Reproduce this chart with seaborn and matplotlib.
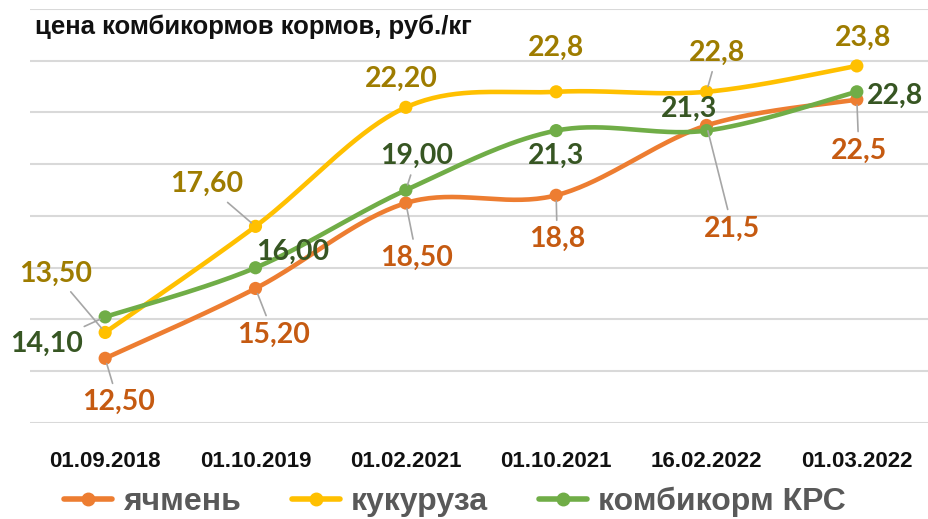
import numpy as np
import pandas as pd
import matplotlib
matplotlib.use('Agg')
import matplotlib.pyplot as plt
import seaborn as sns
from matplotlib.lines import Line2D

# data
dates = ['01.09.2018', '01.10.2019', '01.02.2021', '01.10.2021', '16.02.2022', '01.03.2022']
yachmen = [12.5, 15.2, 18.5, 18.8, 21.5, 22.5]
kukuruza = [13.5, 17.6, 22.2, 22.8, 22.8, 23.8]
kombikorm = [14.1, 16.0, 19.0, 21.3, 21.3, 22.8]

yachmen_lbl = ['12,50', '15,20', '18,50', '18,8', '21,5', '22,5']
kukuruza_lbl = ['13,50', '17,60', '22,20', '22,8', '22,8', '23,8']
kombikorm_lbl = ['14,10', '16,00', '19,00', '21,3', '21,3', '22,8']

names = ['ячмень', 'кукуруза', 'комбикорм КРС']
colors = ['#ED7D31', '#FFC000', '#70AD47']
lbl_colors = ['#C55A11', '#9E7C00', '#375623']

# label offsets in pixels (dx right, dy down) and whether a leader line is drawn
offsets = [
    [(13, 44, 1), (18, 46, 1), (11, 55, 1), (1, 44, 1), (26, 103, 1), (2, 51, 1)],
    [(-50, -59, 1), (-49, -42, 1), (-5, -28, 0), (0, -44, 0), (11, -39, 1), (6, -28, 0)],
    [(-59, 27, 1), (37, -16, 0), (11, -34, 1), (0, 25, 0), (-17, -22, 0), (38, 4, 0)],
]


def smooth(vals, n=40):
    # excel-like smoothed line (catmull-rom as bezier)
    x = np.arange(len(vals), dtype=float)
    y = np.asarray(vals, dtype=float)
    P = np.column_stack([x, y])
    P = np.vstack([P[0], P, P[-1]])
    pts = []
    t = np.linspace(0, 1, n)[:, None]
    for i in range(len(vals) - 1):
        p0, p1, p2, p3 = P[i], P[i + 1], P[i + 2], P[i + 3]
        c1 = p1 + (p2 - p0) / 6
        c2 = p2 - (p3 - p1) / 6
        seg = (1 - t) ** 3 * p1 + 3 * (1 - t) ** 2 * t * c1 + 3 * (1 - t) * t ** 2 * c2 + t ** 3 * p2
        pts.append(seg if i == 0 else seg[1:])
    return np.vstack(pts)


series = [yachmen, kukuruza, kombikorm]
labels = [yachmen_lbl, kukuruza_lbl, kombikorm_lbl]

rows = []
for name, vals in zip(names, series):
    s = smooth(vals)
    for k, (xx, yy) in enumerate(s):
        rows.append((name, k, xx, yy))
curves = pd.DataFrame(rows, columns=['series', 'k', 'x', 'y'])

pts = pd.DataFrame({
    'series': np.repeat(names, len(dates)),
    'x': np.tile(np.arange(len(dates)), len(names)),
    'y': np.concatenate(series),
})

sns.set_style('white')
plt.rcParams['font.family'] = ['Liberation Sans', 'DejaVu Sans']

fig = plt.figure(figsize=(9.29, 5.19), dpi=100)
ax = fig.add_axes([30 / 929, 96 / 519, 902 / 929, 414 / 519])

pal = dict(zip(names, colors))
sns.lineplot(data=curves, x='x', y='y', hue='series', units='series', estimator=None,
             sort=False, palette=pal, lw=3.3, ax=ax, legend=False, zorder=3)
sns.scatterplot(data=pts, x='x', y='y', hue='series', palette=pal, s=90,
                edgecolor='none', ax=ax, legend=False, zorder=4)

ax.set_xlim(-0.5, 5.5)
ax.set_ylim(10, 26)
ax.set_yticks(np.arange(10, 27, 2))
ax.set_yticklabels([])
ax.yaxis.grid(True, color='#D9D9D9', lw=1.5)
ax.set_axisbelow(True)
ax.set_xticks(range(len(dates)))
ax.set_xticklabels(dates, fontsize=16, fontweight='bold', color='#111111')
ax.tick_params(axis='x', length=0, pad=20)
ax.tick_params(axis='y', length=0)
ax.set_xlabel('')
ax.set_ylabel('')
for sp in ax.spines.values():
    sp.set_visible(False)

for si, vals in enumerate(series):
    for i, v in enumerate(vals):
        dx, dy, lead = offsets[si][i]
        arrow = None
        if lead:
            arrow = dict(arrowstyle='-', color='#A6A6A6', lw=1.2, shrinkA=2, shrinkB=4)
        ax.annotate(labels[si][i], xy=(i, v), xytext=(dx * 0.72, -dy * 0.72),
                    textcoords='offset points', ha='center', va='center',
                    fontsize=20.5, fontweight='bold', color=lbl_colors[si],
                    family=['Lato', 'DejaVu Sans'], arrowprops=arrow, zorder=5)

fig.text(35 / 929, 1 - 14.5 / 519, 'цена комбикормов кормов, руб./кг', ha='left', va='top',
         fontsize=18.5, fontweight='bold', color='#111111')

handles = [Line2D([0], [0], color=c, lw=4, marker='o', markersize=9) for c in colors]
fig.legend(handles, names, loc='center', bbox_to_anchor=(455 / 929, 1 - 502 / 519), ncol=3,
           frameon=False, handlelength=1.5, handletextpad=0.35, columnspacing=1.6,
           prop={'size': 23, 'weight': 'bold'}, labelcolor='#595959')

fig.savefig('out.png', dpi=100)
